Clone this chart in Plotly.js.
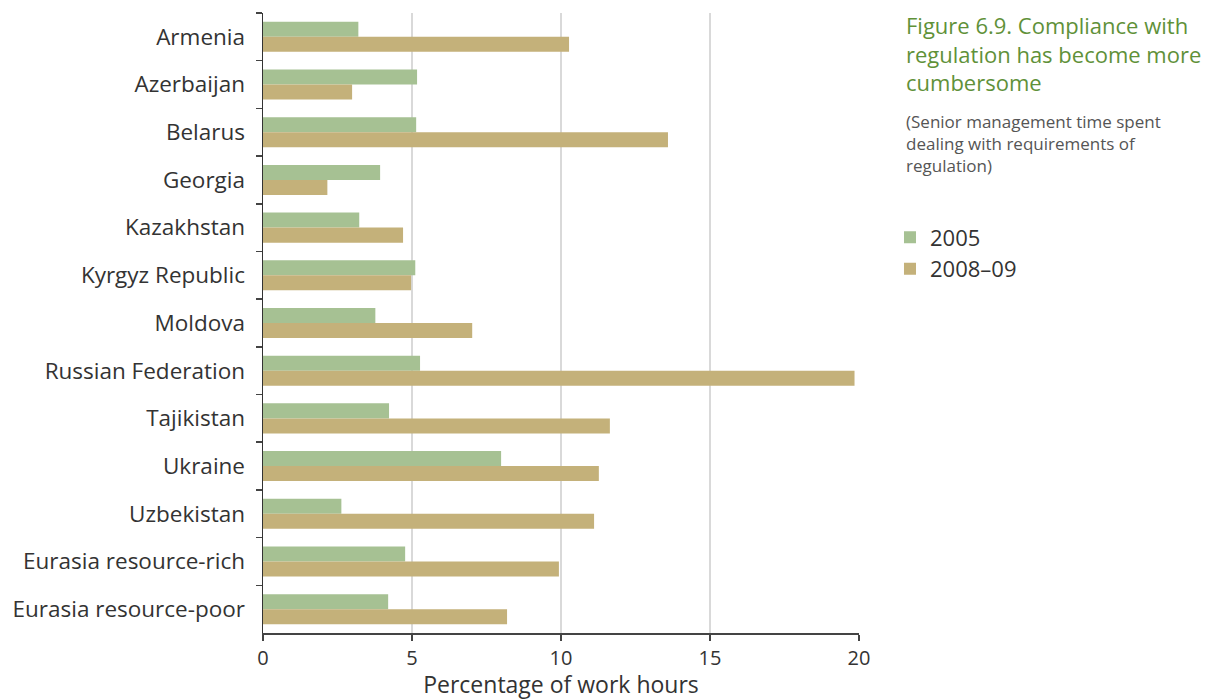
<!DOCTYPE html>
<html>
<head>
<meta charset="utf-8">
<script src="https://cdn.plot.ly/plotly-3.0.1.min.js"></script>
<style>html,body{margin:0;padding:0;background:#fff;}#chart{width:1212px;height:700px;}</style>
</head>
<body>
<div id="chart"></div>
<script>
const categories = ["Armenia","Azerbaijan","Belarus","Georgia","Kazakhstan","Kyrgyz Republic","Moldova","Russian Federation","Tajikistan","Ukraine","Uzbekistan","Eurasia resource-rich","Eurasia resource-poor"];
const values2005 = [3.20, 5.17, 5.14, 3.93, 3.23, 5.11, 3.77, 5.27, 4.23, 7.99, 2.63, 4.77, 4.20];
const values2008 = [10.27, 2.99, 13.59, 2.16, 4.70, 4.97, 7.02, 19.85, 11.64, 11.27, 11.11, 9.93, 8.19];
const seriesNames = ["2005", "2008\u201309"];
const xTicks = [0, 5, 10, 15, 20];

const FONT = "Open Sans, Noto Sans, DejaVu Sans, sans-serif";
const traces = [
  {type:"bar", orientation:"h", name:seriesNames[0], y:categories, x:values2005,
   marker:{color:"#a6c193"}, hoverinfo:"x+y"},
  {type:"bar", orientation:"h", name:seriesNames[1], y:categories, x:values2008,
   marker:{color:"#c4b17a"}, hoverinfo:"x+y"}
];
const layout = {
  width:1212, height:700,
  margin:{l:263, r:353, t:13, b:67},
  paper_bgcolor:"#fff", plot_bgcolor:"#fff",
  barmode:"group", bargap:0.37, bargroupgap:0,
  font:{family:FONT, color:"#333", size:20},
  showlegend:true,
  legend:{x:1.052, y:0.672, xanchor:"left", yanchor:"top", traceorder:"normal",
          font:{family:FONT, size:22, color:"#333"}, bgcolor:"rgba(0,0,0,0)", tracegroupgap:0},
  xaxis:{range:[0,20], tickvals:xTicks, ticktext:xTicks.map(String), showgrid:true,
         gridcolor:"#d9d9d9", gridwidth:1.5, zeroline:false, showline:true, linecolor:"#444",
         linewidth:1.5, ticks:"outside", ticklen:6, tickcolor:"#444", tickwidth:1.5,
         tickfont:{family:FONT, size:20, color:"#333"},
         title:{text:"Percentage of work hours", font:{family:FONT, size:23, color:"#333"}, standoff:14}},
  yaxis:{type:"category", autorange:"reversed", showgrid:false, zeroline:false,
         showline:true, linecolor:"#333", linewidth:1.5, ticks:"outside", tickson:"boundaries",
         ticklen:6, tickcolor:"#444", tickwidth:1.5, ticklabelstandoff:12,
         tickfont:{family:FONT, size:22.5, color:"#333"}},
  annotations:[
    {xref:"paper", yref:"paper", x:1.0755, y:1.008, xanchor:"left", yanchor:"top", align:"left",
     showarrow:false, text:"Figure 6.9. Compliance with<br>regulation has become more<br>cumbersome",
     font:{family:FONT, size:22, color:"#5f9139"}},
    {xref:"paper", yref:"paper", x:1.0755, y:0.847, xanchor:"left", yanchor:"top", align:"left",
     showarrow:false, text:"(Senior management time spent<br>dealing with requirements of<br>regulation)",
     font:{family:FONT, size:17, color:"#555"}}
  ]
};
Plotly.newPlot("chart", traces, layout, {displayModeBar:false, staticPlot:true});
</script>
</body>
</html>
